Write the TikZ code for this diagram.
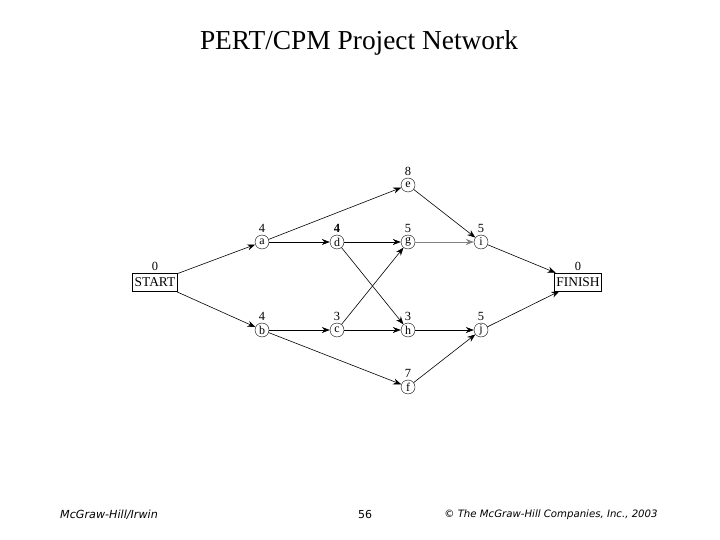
\documentclass[tikz,border=0pt]{standalone}
\usepackage{fontspec}
\setmainfont{Liberation Serif}
\newfontfamily\footfont{DejaVu Sans}
\usepackage{tikz}
\usetikzlibrary{arrows.meta}

\begin{document}
\begin{tikzpicture}[x=1bp, y=-1bp,
    event/.style={draw, circle, inner sep=0pt, minimum size=14bp, font=\fontsize{12}{12}\selectfont},
    endbox/.style={draw, rectangle, inner sep=2bp, minimum height=18bp, font=\fontsize{13.5}{13.5}\selectfont},
    time/.style={font=\fontsize{12.5}{12.5}\selectfont, inner sep=0.5bp},
    arc/.style={-{Stealth[length=8bp, width=6bp]}, semithick},
    foot/.style={font=\footfont\fontsize{10.2}{10.2}\selectfont\itshape}]
    \useasboundingbox (0, 0) rectangle (720, 540);
    \node[font=\fontsize{27.5}{27.5}\selectfont] (title) at (359, 43) {PERT/CPM Project Network};
    % events
    \node[endbox] (start) at (155, 282) {START};
    \node[event] (a) at (262, 242) {a};
    \node[event] (b) at (262, 330) {b};
    \node[event] (d) at (337, 242) {d};
    \node[event] (c) at (337, 330) {c};
    \node[event] (e) at (408, 185) {e};
    \node[event] (g) at (408, 242) {g};
    \node[event] (h) at (408, 330) {h};
    \node[event] (f) at (408, 387) {f};
    \node[event] (i) at (481, 242) {i};
    \node[event] (j) at (481, 330) {j};
    \node[endbox] (finish) at (578, 282) {FINISH};
    % durations
    \foreach \n/\t in {start/0, a/4, b/4, d/\textbf{4}, c/3, e/8, g/5, h/3, f/7, i/5, j/5, finish/0}
        \node[time, above=1.5bp] at (\n.north) {\t};
    % activities
    \draw[arc] (start) -- (a);
    \draw[arc] (start) -- (b);
    \draw[arc] (a) -- (e);
    \draw[arc] (a) -- (d);
    \draw[arc] (b) -- (c);
    \draw[arc] (b) -- (f);
    \draw[arc] (d) -- (g);
    \draw[arc] (d) -- (h);
    \draw[arc] (c) -- (g);
    \draw[arc] (c) -- (h);
    \draw[arc] (e) -- (i);
    \draw[arc, gray] (g) -- (i);
    \draw[arc] (h) -- (j);
    \draw[arc] (f) -- (j);
    \draw[arc] (i) -- (finish);
    \draw[arc] (j) -- (finish);
    % footer
    \node[foot, font=\footfont\fontsize{11.2}{11.2}\selectfont\itshape] (firm) at (109, 515) {McGraw-Hill/Irwin};
    \node[font=\footfont\fontsize{11}{11}\selectfont] (page) at (365, 515) {56};
    \node[foot] (copy) at (551, 515) {© The McGraw-Hill Companies, Inc., 2003};
\end{tikzpicture}
\end{document}
